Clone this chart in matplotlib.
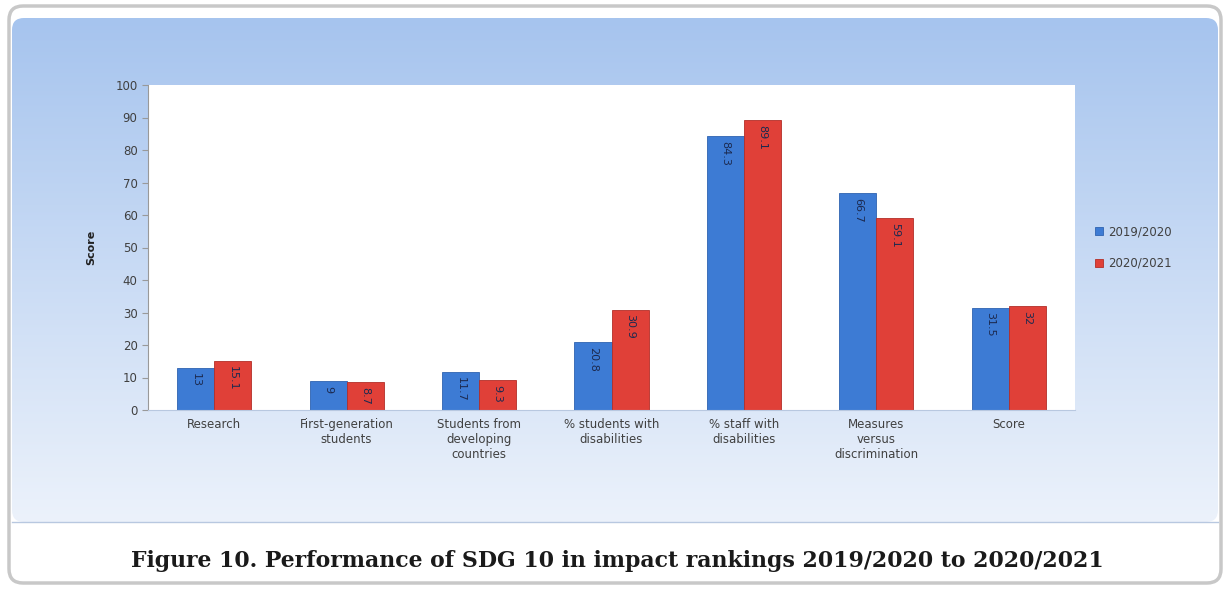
import numpy as np
import matplotlib.pyplot as plt
from matplotlib.patches import FancyBboxPatch, Rectangle

categories = ['Research', 'First-generation\nstudents', 'Students from\ndeveloping\ncountries',
              '% students with\ndisabilities', '% staff with\ndisabilities',
              'Measures\nversus\ndiscrimination', 'Score']
y2019 = [13, 9, 11.7, 20.8, 84.3, 66.7, 31.5]
y2020 = [15.1, 8.7, 9.3, 30.9, 89.1, 59.1, 32]
labels2019 = ['13', '9', '11.7', '20.8', '84.3', '66.7', '31.5']
labels2020 = ['15.1', '8.7', '9.3', '30.9', '89.1', '59.1', '32']
series = ['2019/2020', '2020/2021']

fig = plt.figure(figsize=(12.3, 5.89), dpi=100)

# background frame + gradient panel
bg = fig.add_axes([0, 0, 1, 1], zorder=-1)
bg.set_xlim(0, 1230)
bg.set_ylim(589, 0)
bg.axis('off')
frame = FancyBboxPatch((9, 6), 1212, 577, boxstyle='round,pad=0,rounding_size=14',
                       fc='white', ec='#c8c8c8', lw=2.5)
bg.add_patch(frame)
grad = np.linspace(0, 1, 256).reshape(-1, 1)
top = np.array([166, 196, 238]) / 255
bot = np.array([236, 242, 251]) / 255
img = top + (bot - top) * grad[..., None]
im = bg.imshow(img, extent=(12, 1218, 522, 18), aspect='auto', zorder=1)
clip = FancyBboxPatch((12, 18), 1206, 504, boxstyle='round,pad=0,rounding_size=12',
                      transform=bg.transData, fc='none', ec='none')
bg.add_patch(clip)
im.set_clip_path(clip)
bg.plot([12, 1218], [522, 522], color='#b8c8e0', lw=1, zorder=2)
bg.text(617, 561, 'Figure 10. Performance of SDG 10 in impact rankings 2019/2020 to 2020/2021',
        ha='center', va='center', fontsize=15.8, fontweight='bold', family='DejaVu Serif',
        color='#1a1a1a', zorder=3)

ax = fig.add_axes([148 / 1230, 1 - 410 / 589, (1075 - 148) / 1230, (410 - 85) / 589])
ax.set_facecolor('white')
x = np.arange(len(categories))
w = 0.28
b1 = ax.bar(x - w / 2, y2019, w, color='#3d7bd4', edgecolor='#2f63b0', lw=0.6, label=series[0])
b2 = ax.bar(x + w / 2, y2020, w, color='#e04038', edgecolor='#b32e28', lw=0.6, label=series[1])
for bars, labs in ((b1, labels2019), (b2, labels2020)):
    for r, lab in zip(bars, labs):
        ax.text(r.get_x() + r.get_width() / 2, r.get_height() - 1.5, lab, rotation=270,
                ha='center', va='top', fontsize=8, color='#1c2a50')

ax.set_xlim(-0.5, len(categories) - 0.5)
ax.set_ylim(0, 100)
ax.set_yticks(range(0, 101, 10))
ax.set_xticks(x)
ax.set_xticklabels(categories, fontsize=8.5, color='#404040')
ax.tick_params(axis='y', labelsize=8.5, labelcolor='#404040', color='#999999', length=4)
ax.tick_params(axis='x', length=0, pad=6)
for s in ['top', 'right']:
    ax.spines[s].set_visible(False)
ax.spines['left'].set_color('#999999')
ax.spines['bottom'].set_color('#b8c8e0')
ax.set_ylabel('Score', fontsize=8, fontweight='bold', color='#202020', labelpad=14)

ax.legend(loc='center left', bbox_to_anchor=(1.01, 0.5), frameon=False, fontsize=8.5,
          handlelength=0.7, handleheight=0.7, labelspacing=1.6, handletextpad=0.4,
          labelcolor='#404040')

fig.savefig('out.png', dpi=100)
